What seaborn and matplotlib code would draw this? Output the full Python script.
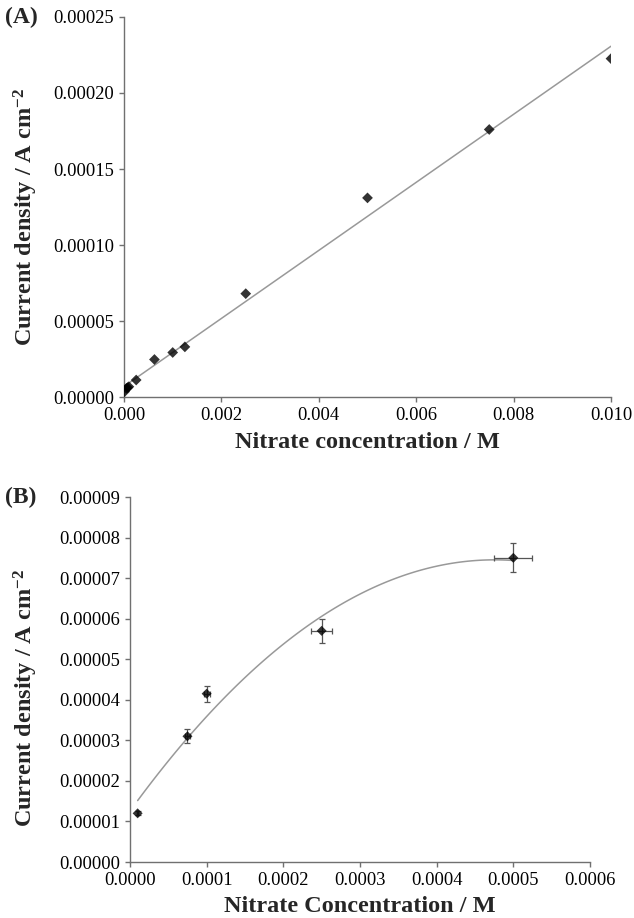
import numpy as np
import pandas as pd
import matplotlib
matplotlib.use("Agg")
import matplotlib.pyplot as plt
import seaborn as sns

# Panel A: full calibration range
conc_a = [0.00001, 0.00005, 0.000075, 0.0001, 0.00025, 0.000625,
          0.001, 0.00125, 0.0025, 0.005, 0.0075, 0.01]
curr_a = [3.5e-6, 5.7e-6, 6.2e-6, 6.8e-6, 11.2e-6, 24.7e-6,
          29.3e-6, 33.0e-6, 68.0e-6, 131.0e-6, 176.0e-6, 222.6e-6]

# Panel B: low-concentration range with replicate spread
conc_b = [0.00001, 0.000075, 0.0001, 0.00025, 0.0005]
curr_b = [1.2e-5, 3.1e-5, 4.15e-5, 5.7e-5, 7.5e-5]
conc_b_err = [1.0e-6, 3.0e-6, 4.0e-6, 1.4e-5, 2.5e-5]
curr_b_err = [0.5e-6, 1.7e-6, 2.0e-6, 3.0e-6, 3.6e-6]

xticks_a = [0.000, 0.002, 0.004, 0.006, 0.008, 0.010]
xticklabels_a = ["0.000", "0.002", "0.004", "0.006", "0.008", "0.010"]
yticks_a = [0.0, 0.00005, 0.00010, 0.00015, 0.00020, 0.00025]
yticklabels_a = ["0.00000", "0.00005", "0.00010", "0.00015", "0.00020", "0.00025"]

xticks_b = [0.0, 0.0001, 0.0002, 0.0003, 0.0004, 0.0005, 0.0006]
xticklabels_b = ["0.0000", "0.0001", "0.0002", "0.0003", "0.0004", "0.0005", "0.0006"]
yticks_b = [0.0, 0.00001, 0.00002, 0.00003, 0.00004, 0.00005,
            0.00006, 0.00007, 0.00008, 0.00009]
yticklabels_b = ["0.00000", "0.00001", "0.00002", "0.00003", "0.00004", "0.00005",
                 "0.00006", "0.00007", "0.00008", "0.00009"]

df_a = pd.DataFrame({"conc": conc_a, "curr": curr_a})
df_b = pd.DataFrame({"conc": conc_b, "curr": curr_b})

sns.set_theme(style="ticks")
plt.rcParams["font.family"] = ["Liberation Serif", "DejaVu Serif"]
plt.rcParams["mathtext.fontset"] = "custom"
plt.rcParams["mathtext.rm"] = "Liberation Serif:bold"
plt.rcParams["mathtext.default"] = "rm"

AXIS_COLOR = "#707070"
TREND_COLOR = "#999999"
LABEL_SIZE = 17.5
TICK_SIZE = 13.3
YLABEL = "Current density / A cm$^{-2}$"

fig = plt.figure(figsize=(6.34, 9.18), dpi=100)
ax_a = fig.add_axes([0.1956, 0.5675, 0.9637 - 0.1956, 0.9815 - 0.5675])
ax_b = fig.add_axes([0.2050, 0.0610, 0.9306 - 0.2050, 0.4586 - 0.0610])


def style_axes(ax):
    for side in ("top", "right"):
        ax.spines[side].set_visible(False)
    for side in ("left", "bottom"):
        ax.spines[side].set_color(AXIS_COLOR)
        ax.spines[side].set_linewidth(1.0)
    ax.tick_params(direction="out", length=3.5, width=1.0, color=AXIS_COLOR,
                   labelsize=TICK_SIZE, labelcolor="black", pad=3.5)
    ax.set_facecolor("white")


# (A) linear calibration
sns.regplot(data=df_a, x="conc", y="curr", ax=ax_a, order=1, ci=None,
            marker="D",
            scatter_kws={"s": 30, "color": "black", "edgecolors": "none", "zorder": 3},
            line_kws={"color": TREND_COLOR, "lw": 1.1, "zorder": 2})
ax_a.set_xlim(0, 0.010)
ax_a.set_ylim(0, 0.00025)
ax_a.set_xticks(xticks_a)
ax_a.set_xticklabels(xticklabels_a)
ax_a.set_yticks(yticks_a)
ax_a.set_yticklabels(yticklabels_a)
ax_a.set_xlabel("Nitrate concentration / M", fontsize=LABEL_SIZE, fontweight="bold", labelpad=6)
ax_a.set_ylabel(YLABEL, fontsize=LABEL_SIZE, fontweight="bold")
ax_a.yaxis.set_label_coords(-0.173, 0.474)
style_axes(ax_a)

# (B) low-range calibration with second-order trend
ax_b.errorbar(conc_b, curr_b, xerr=conc_b_err, yerr=curr_b_err, fmt="none",
              ecolor="#555555", elinewidth=0.9, capsize=2.5, capthick=0.9, zorder=2)
sns.regplot(data=df_b, x="conc", y="curr", ax=ax_b, order=2, ci=None,
            marker="D",
            scatter_kws={"s": 26, "color": "black", "edgecolors": "none", "zorder": 3},
            line_kws={"color": TREND_COLOR, "lw": 1.1, "zorder": 1})
ax_b.set_xlim(0, 0.0006)
ax_b.set_ylim(0, 0.00009)
ax_b.set_xticks(xticks_b)
ax_b.set_xticklabels(xticklabels_b)
ax_b.set_yticks(yticks_b)
ax_b.set_yticklabels(yticklabels_b)
ax_b.set_xlabel("Nitrate Concentration / M", fontsize=LABEL_SIZE, fontweight="bold", labelpad=5)
ax_b.set_ylabel(YLABEL, fontsize=LABEL_SIZE, fontweight="bold")
ax_b.yaxis.set_label_coords(-0.196, 0.449)
style_axes(ax_b)

fig.text(0.008, 0.9815, "(A)", fontsize=17, fontweight="bold", va="center", ha="left")
fig.text(0.008, 0.4586, "(B)", fontsize=17, fontweight="bold", va="center", ha="left")

fig.savefig("out.png", dpi=100, facecolor="white")
